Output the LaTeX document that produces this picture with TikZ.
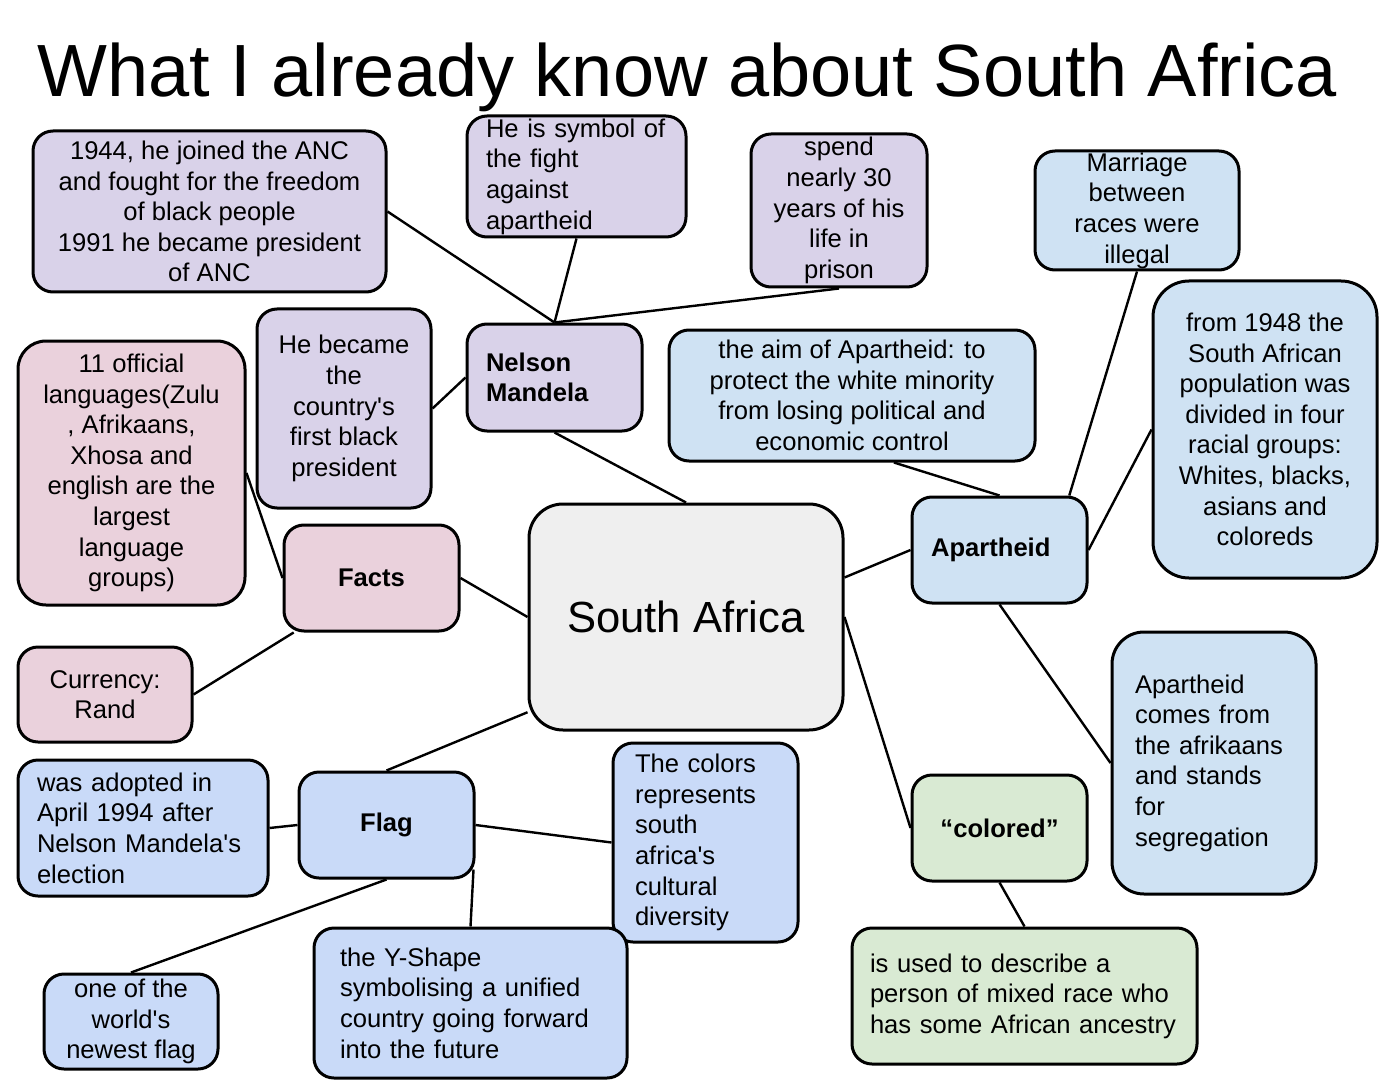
\documentclass[tikz,border=0pt]{standalone}
\usepackage{fontspec}
\setmainfont{Liberation Sans}
\usepackage{tikz}

\definecolor{mandelapurple}{HTML}{D9D2E9}
\definecolor{factspink}{HTML}{EAD1DC}
\definecolor{apartblue}{HTML}{CFE2F3}
\definecolor{flagblue}{HTML}{C9DAF8}
\definecolor{coloredgreen}{HTML}{D9EAD3}
\definecolor{centergray}{HTML}{EFEFEF}

\newcommand\bodysize{\fontsize{12.8}{15.3}\selectfont}
\newcommand\ap{\textquotesingle} % straight apostrophe

\tikzset{
  idea/.style={draw=black, line width=1.5pt, rounded corners=10pt, inner sep=0pt,
    align=center, font=\bodysize},
  % left aligned boxes: #1 = padding, #2 = text width
  leftidea/.style 2 args={idea, align=left, inner xsep=#1, text width=#2},
  link/.style={line width=1.2pt},
}

\begin{document}
\begin{tikzpicture}[x=0.5pt,y=-0.5pt]
  \useasboundingbox (0,0) rectangle (1379,1080);

  \node[anchor=base west, inner sep=0pt, font=\fontsize{37}{44}\selectfont] (title) at (37,97)
    {What I already know about South Africa};

  % Nelson Mandela branch
  \node[idea, fill=mandelapurple, minimum width=176.5pt, minimum height=80.5pt] (anc) at (209.5,211.5)
    {1944, he joined the ANC\\ and fought for the freedom\\ of black people\\ 1991 he became president\\ of ANC};
  \node[leftidea={9.5pt}{90.5pt}, fill=mandelapurple, minimum height=60.5pt] (symbol) at (576.5,176.5)
    {He is symbol of\\ the fight\\ against\\ apartheid};
  \node[idea, fill=mandelapurple, minimum width=88pt, minimum height=76.5pt] (prison) at (839,210.5)
    {spend\\ nearly 30\\ years of his\\ life in\\ prison};
  \node[leftidea={9.5pt}{68.5pt}, fill=mandelapurple, minimum height=53.5pt, font=\bodysize\bfseries] (mandela) at (554.5,377.5)
    {Nelson\\ Mandela};
  \node[idea, fill=mandelapurple, minimum width=87pt, minimum height=99.5pt] (president) at (344,408.5)
    {He became\\ the\\ country\ap s\\ first black\\ president};

  % Facts branch
  \node[idea, fill=factspink, rounded corners=14pt, minimum width=113.5pt, minimum height=132pt] (lang) at (131.5,473)
    {11 official\\ languages(Zulu\\ , Afrikaans,\\ Xhosa and\\ english are the\\ largest\\ language\\ groups)};
  \node[idea, fill=factspink, minimum width=87.5pt, minimum height=53pt, font=\bodysize\bfseries] (facts) at (371.5,578)
    {Facts};
  \node[idea, fill=factspink, minimum width=87pt, minimum height=47.5pt] (currency) at (105,694.5)
    {Currency:\\ Rand};

  % centre
  \node[idea, fill=centergray, rounded corners=17pt, minimum width=157pt, minimum height=113pt,
    font=\fontsize{21.8}{26}\selectfont] (center) at (686,617) {South Africa};

  % Apartheid branch
  \node[idea, fill=apartblue, minimum width=102pt, minimum height=59.5pt] (marriage) at (1137,210.5)
    {Marriage\\ between\\ races were\\ illegal};
  \node[idea, fill=apartblue, rounded corners=18pt, minimum width=112pt, minimum height=148.5pt] (from1948) at (1265,429.5)
    {from 1948 the\\ South African\\ population was\\ divided in four\\ racial groups:\\ Whites, blacks,\\ asians and\\ coloreds};
  \node[idea, fill=apartblue, minimum width=183pt, minimum height=65.5pt] (aim) at (852,395.5)
    {the aim of Apartheid: to\\ protect the white minority\\ from losing political and\\ economic control};
  \node[leftidea={9.5pt}{68.5pt}, fill=apartblue, minimum height=53pt, font=\bodysize\bfseries] (apart) at (999.5,550)
    {Apartheid};
  \node[leftidea={11.5pt}{79pt}, fill=apartblue, rounded corners=16pt, minimum height=131pt] (segr) at (1214,763)
    {Apartheid\\ comes from\\ the afrikaans\\ and stands\\ for\\ segregation};

  % "colored"
  \node[idea, fill=coloredgreen, minimum width=87.5pt, minimum height=53pt, font=\bodysize\bfseries] (colored) at (999.5,828)
    {“colored”};
  \node[leftidea={9pt}{154.5pt}, fill=coloredgreen, minimum height=68pt] (mixed) at (1024.5,996)
    {is used to describe a\\ person of mixed race who\\ has some African ancestry};

  % Flag branch
  \node[leftidea={9.5pt}{106pt}, fill=flagblue, minimum height=68pt] (adopted) at (143,828)
    {was adopted in\\ April 1994 after\\ Nelson Mandela\ap s\\ election};
  \node[idea, fill=flagblue, minimum width=87.5pt, minimum height=53pt, font=\bodysize\bfseries] (flag) at (386.5,825)
    {Flag};
  \node[leftidea={11pt}{70.5pt}, fill=flagblue, minimum height=99.5pt] (colors) at (705.5,842.5)
    {The colors\\ represents\\ south\\ africa\ap s\\ cultural\\ diversity};
  \node[idea, fill=flagblue, minimum width=87pt, minimum height=47.5pt] (newest) at (131,1021.5)
    {one of the\\ world\ap s\\ newest flag};
  \node[leftidea={13pt}{130.5pt}, fill=flagblue, minimum height=75pt] (yshape) at (470.5,1003)
    {the Y-Shape\\ symbolising a unified\\ country going forward\\ into the future};

  % connectors
  \draw[link] (anc.east) -- (mandela.north);
  \draw[link] (symbol.south) -- (mandela.north);
  \draw[link] (prison.south) -- (mandela.north);
  \draw[link] (president.east) -- (mandela.west);
  \draw[link] (mandela.south) -- (center.north);
  \draw[link] (aim.-58) -- (apart.north);
  \draw[link] (marriage.south) -- (apart.38);
  \draw[link] (from1948.west) -- (apart.east);
  \draw[link] (center.14) -- (apart.west);
  \draw[link] (apart.south) -- (segr.west);
  \draw[link] (center.east) -- (colored.west);
  \draw[link] (colored.south) -- (mixed.north);
  \draw[link] (facts.east) -- (center.west);
  \draw[link] (lang.east) -- (facts.west);
  \draw[link] (facts.215) -- (currency.east);
  \draw[link] (center.211) -- (flag.north);
  \draw[link] (adopted.east) -- (flag.west);
  \draw[link] (flag.east) -- (colors.west);
  \draw[link] ([xshift=-1pt,yshift=5pt]flag.south east) -- (yshape.north);
  \draw[link] (flag.south) -- (newest.north);
\end{tikzpicture}
\end{document}
